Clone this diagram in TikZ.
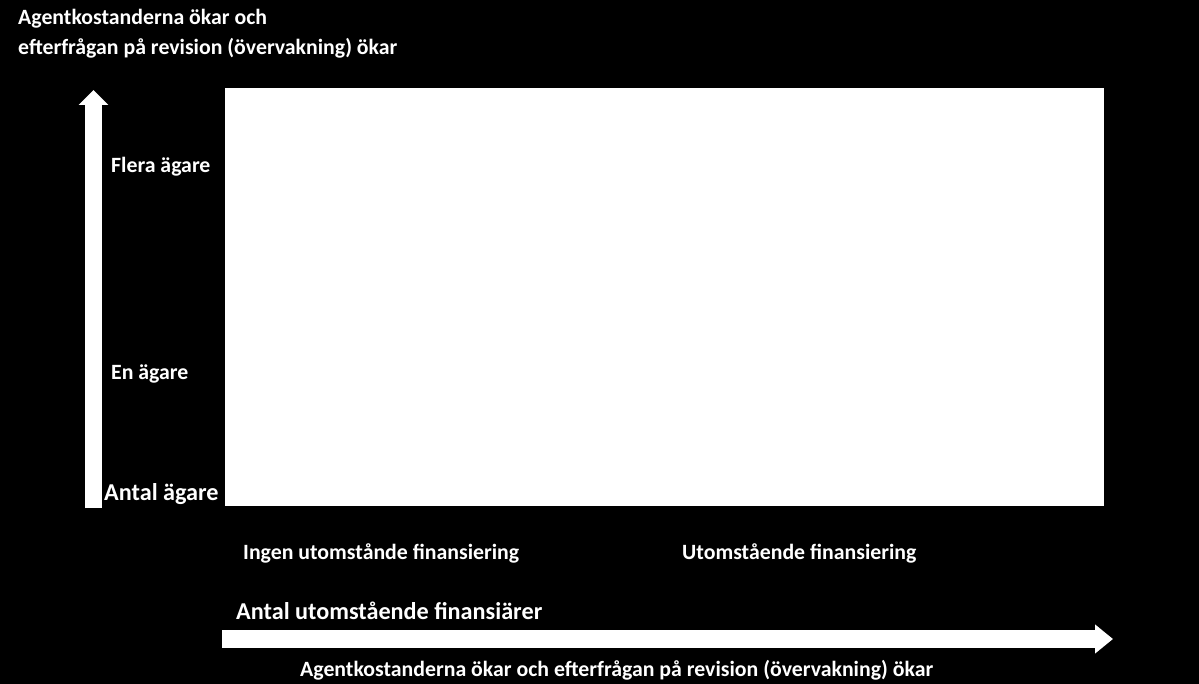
\documentclass[tikz,border=0pt]{standalone}
\usepackage{fontspec}
\setmainfont{Carlito}
\usetikzlibrary{arrows.meta}
\tikzset{
  lbl/.style={text=white, font=\bfseries\fontsize{21.8}{22}\selectfont, inner sep=0pt, anchor=west},
  biglbl/.style={text=white, font=\bfseries\fontsize{24.2}{24}\selectfont, inner sep=0pt, anchor=west},
}
\begin{document}
\begin{tikzpicture}[x=1pt, y=-1pt]
        \fill[black] (0,0) rectangle (1199,684);
        \useasboundingbox (0,0) rectangle (1199,684);

        \node[fill=white, inner sep=0pt, minimum width=879, minimum height=418, anchor=north west] (plot) at (225,88) {};

        % axes
        \coordinate (ybot) at (93.5,508);
        \coordinate (ytop) at (93.5,90);
        \coordinate (xleft) at (222,639);
        \coordinate (xright) at (1113,639);
        \draw[white, line width=17pt, -{Triangle[width=29pt, length=15pt]}] (ybot) -- (ytop);
        \draw[white, line width=18pt, -{Triangle[width=28pt, length=18pt]}] (xleft) -- (xright);

        \node[lbl, align=left] (top) at (18,34) {Agentkostanderna ökar och\\[8pt] efterfrågan på revision (övervakning) ökar};
        \node[lbl] (flera) at (111,167) {Flera ägare};
        \node[lbl] (en) at (111,374) {En ägare};
        \node[biglbl] (antal) at (104,494) {Antal ägare};
        \node[lbl] (ingen) at (243,553) {Ingen utomstånde finansiering};
        \node[lbl] (utom) at (682,553) {Utomstående finansiering};
        \node[biglbl] (finans) at (236,611) {Antal utomstående finansiärer};
        \node[lbl] (bottom) at (300,670) {Agentkostanderna ökar och efterfrågan på revision (övervakning) ökar};
\end{tikzpicture}
\end{document}
